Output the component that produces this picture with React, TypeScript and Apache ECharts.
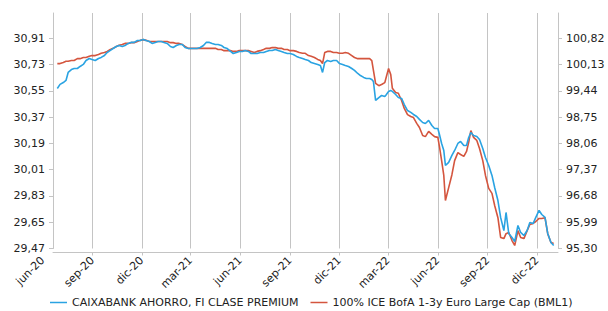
import React, { useEffect, useRef } from 'react';
import * as echarts from 'echarts';

const seriesNames = ['CAIXABANK AHORRO, FI CLASE PREMIUM', '100% ICE BofA 1-3y Euro Large Cap (BML1)'];

const dates = [
  '2020-06-28','2020-07-03','2020-07-09','2020-07-14','2020-07-18','2020-07-24','2020-07-29','2020-08-04','2020-08-09','2020-08-15',
  '2020-08-20','2020-08-26','2020-08-31','2020-09-06','2020-09-12','2020-09-17','2020-09-23','2020-09-28','2020-10-04','2020-10-09',
  '2020-10-15','2020-10-20','2020-10-26','2020-10-31','2020-11-06','2020-11-11','2020-11-17','2020-11-23','2020-11-28','2020-12-04',
  '2020-12-09','2020-12-15','2020-12-20','2020-12-26','2020-12-31','2021-01-06','2021-01-11','2021-01-17','2021-01-23','2021-01-28',
  '2021-02-03','2021-02-08','2021-02-14','2021-02-19','2021-02-25','2021-03-02','2021-03-08','2021-03-13','2021-03-19','2021-03-25',
  '2021-03-30','2021-04-05','2021-04-10','2021-04-16','2021-04-21','2021-04-27','2021-05-02','2021-05-08','2021-05-14','2021-05-19',
  '2021-05-25','2021-05-30','2021-06-05','2021-06-10','2021-06-16','2021-06-21','2021-06-27','2021-07-02','2021-07-08','2021-07-14',
  '2021-07-19','2021-07-25','2021-07-30','2021-08-05','2021-08-10','2021-08-16','2021-08-21','2021-08-27','2021-09-01','2021-09-07',
  '2021-09-13','2021-09-18','2021-09-24','2021-09-29','2021-10-05','2021-10-10','2021-10-16','2021-10-22','2021-10-27','2021-10-31',
  '2021-11-04','2021-11-09','2021-11-15','2021-11-20','2021-11-26','2021-12-01','2021-12-07','2021-12-12','2021-12-18','2021-12-24',
  '2021-12-29','2022-01-04','2022-01-09','2022-01-15','2022-01-20','2022-01-26','2022-01-30','2022-02-02','2022-02-06','2022-02-12',
  '2022-02-17','2022-02-23','2022-02-26','2022-03-02','2022-03-06','2022-03-09','2022-03-15','2022-03-20','2022-03-26','2022-03-31',
  '2022-04-06','2022-04-12','2022-04-17','2022-04-23','2022-04-28','2022-05-04','2022-05-09','2022-05-15','2022-05-21','2022-05-26',
  '2022-06-01','2022-06-04','2022-06-08','2022-06-12','2022-06-15','2022-06-21','2022-06-27','2022-07-02','2022-07-08','2022-07-13',
  '2022-07-19','2022-07-24','2022-07-28','2022-08-01','2022-08-06','2022-08-12','2022-08-17','2022-08-23','2022-08-28','2022-09-03',
  '2022-09-09','2022-09-14','2022-09-20','2022-09-25','2022-10-01','2022-10-05','2022-10-10','2022-10-16','2022-10-21','2022-10-27',
  '2022-11-01','2022-11-07','2022-11-13','2022-11-18','2022-11-24','2022-11-29','2022-12-05','2022-12-10','2022-12-16','2022-12-21',
  '2022-12-27','2023-01-01'
];

const fundValues = [
  30.567,30.595,30.608,30.622,30.677,30.697,30.704,30.704,30.718,30.732,
  30.759,30.773,30.766,30.759,30.773,30.780,30.793,30.814,30.828,30.841,
  30.855,30.862,30.855,30.862,30.876,30.883,30.883,30.896,30.896,30.903,
  30.896,30.889,30.876,30.883,30.889,30.889,30.883,30.876,30.855,30.848,
  30.862,30.869,30.869,30.848,30.841,30.841,30.841,30.841,30.848,30.862,
  30.883,30.883,30.876,30.869,30.869,30.862,30.848,30.841,30.821,30.807,
  30.814,30.821,30.821,30.828,30.821,30.807,30.807,30.807,30.814,30.814,
  30.821,30.828,30.828,30.835,30.828,30.821,30.814,30.807,30.807,30.800,
  30.787,30.780,30.773,30.766,30.759,30.745,30.739,30.732,30.725,30.677,
  30.745,30.759,30.752,30.759,30.759,30.739,30.732,30.725,30.718,30.704,
  30.691,30.670,30.656,30.643,30.636,30.636,30.629,30.615,30.485,30.505,
  30.519,30.512,30.526,30.547,30.553,30.547,30.526,30.505,30.499,30.457,
  30.416,30.403,30.389,30.375,30.355,30.334,30.327,30.348,30.313,30.293,
  30.293,30.252,30.190,30.142,30.039,30.060,30.108,30.142,30.190,30.204,
  30.176,30.176,30.231,30.265,30.245,30.238,30.217,30.156,30.094,30.039,
  29.971,29.888,29.799,29.683,29.593,29.717,29.573,29.545,29.518,29.628,
  29.580,29.559,29.593,29.648,29.641,29.683,29.731,29.703,29.683,29.573,
  29.511,29.491
];

const indexValues = [
  100.16,100.16,100.19,100.22,100.22,100.24,100.24,100.29,100.29,100.32,
  100.32,100.35,100.37,100.37,100.40,100.43,100.45,100.48,100.53,100.56,
  100.61,100.64,100.66,100.69,100.69,100.71,100.71,100.74,100.77,100.79,
  100.77,100.74,100.74,100.74,100.74,100.74,100.74,100.74,100.71,100.71,
  100.69,100.69,100.66,100.61,100.56,100.56,100.56,100.56,100.56,100.56,
  100.56,100.56,100.56,100.56,100.53,100.53,100.50,100.50,100.50,100.48,
  100.48,100.50,100.50,100.50,100.50,100.48,100.45,100.48,100.50,100.53,
  100.56,100.56,100.58,100.58,100.56,100.56,100.53,100.53,100.50,100.50,
  100.48,100.45,100.43,100.43,100.37,100.35,100.32,100.27,100.24,100.16,
  100.45,100.48,100.48,100.45,100.45,100.43,100.43,100.45,100.43,100.37,
  100.32,100.29,100.29,100.29,100.29,100.29,100.24,99.98,99.64,99.58,
  99.61,99.66,99.82,100.03,99.87,99.51,99.40,99.38,99.19,98.98,
  98.82,98.77,98.74,98.59,98.48,98.27,98.24,98.38,98.30,98.24,
  98.22,97.98,97.61,97.22,96.56,96.90,97.24,97.61,97.82,97.77,
  97.72,97.85,98.09,98.40,98.22,98.14,97.93,97.61,97.22,96.88,
  96.75,96.43,96.11,95.59,95.56,95.69,95.72,95.51,95.38,95.77,
  95.59,95.56,95.77,95.93,95.96,96.01,96.09,96.09,96.11,95.69,
  95.46,95.43
];

const leftTicks = [29.47, 29.65, 29.83, 30.01, 30.19, 30.37, 30.55, 30.73, 30.91];
const rightTicks = [95.30, 95.99, 96.68, 97.37, 98.06, 98.75, 99.44, 100.13, 100.82];

const xTickDates = ['2020-06-01','2020-09-01','2020-12-01','2021-03-01','2021-06-01','2021-09-01','2021-12-01','2022-03-01','2022-06-01','2022-09-01','2022-12-01'];
const xTickLabels = ['jun-20','sep-20','dic-20','mar-21','jun-21','sep-21','dic-21','mar-22','jun-22','sep-22','dic-22'];
const xStart = '2020-06-20';
const xEnd = '2023-01-09';

const BLUE = '#2aa3e2';
const RED = '#d4553e';
const GRID = '#c4c4c4';
const TEXT = '#222222';
const FONT = 'DejaVu Sans';

const toTs = (s: string) => {
  const [y, m, d] = s.split('-').map(Number);
  return Date.UTC(y, m - 1, d);
};

const fmt = (v: number) => v.toFixed(2).replace('.', ',');

export default function App() {
  const ref = useRef<HTMLDivElement>(null);
  useEffect(() => {
    if (!ref.current) return;
    const chart = echarts.init(ref.current, undefined, { renderer: 'svg' });

    const W = 608;
    const plotLeft = 53;
    const plotRight = 50;
    const plotTop = 13;
    const plotBottom = 62.5;
    const spanUnits = 8.97;

    const leftStep = leftTicks[1] - leftTicks[0];
    const rightStep = rightTicks[1] - rightTicks[0];

    const t0 = toTs(xStart);
    const t1 = toTs(xEnd);
    const tFirst = toTs(xTickDates[0]);
    const plotW = W - plotLeft - plotRight;
    const labelGridLeft = plotLeft - ((t0 - tFirst) / (t1 - t0)) * plotW;
    const xTickTs = xTickDates.map(toTs);
    const inner = xTickTs.filter((t) => t >= t0 && t <= t1);

    const option: any = {
      animation: false,
      backgroundColor: '#ffffff',
      grid: [
        { left: plotLeft, right: plotRight, top: plotTop, bottom: plotBottom },
        { left: labelGridLeft, right: plotRight, top: plotTop, bottom: plotBottom },
      ],
      legend: {
        left: 50,
        top: 296,
        padding: 0,
        icon: 'rect',
        itemWidth: 17,
        itemHeight: 1.5,
        itemGap: 12,
        data: [seriesNames[0], seriesNames[1]],
        textStyle: { fontSize: 11, lineHeight: 13, color: TEXT, fontFamily: FONT },
      },
      xAxis: [
        {
          type: 'value',
          gridIndex: 0,
          min: t0,
          max: t1,
          offset: 4,
          axisLine: { show: true, lineStyle: { color: GRID, width: 1 } },
          axisTick: { show: true, length: 3, customValues: inner, lineStyle: { color: GRID } },
          axisLabel: { show: false },
          splitLine: { show: true, lineStyle: { color: GRID, width: 1 } },
        },
        {
          type: 'value',
          gridIndex: 1,
          min: tFirst,
          max: t1,
          offset: 4,
          axisLine: { show: false },
          axisTick: { show: false },
          splitLine: { show: false },
          axisLabel: {
            show: true,
            customValues: xTickTs,
            rotate: 45,
            margin: 6,
            fontSize: 11,
            color: TEXT,
            fontFamily: FONT,
            formatter: (v: number) => {
              const i = xTickTs.findIndex((t) => Math.abs(t - v) < 43200000);
              return i >= 0 ? xTickLabels[i] : '';
            },
          },
        },
      ],
      yAxis: [
        {
          type: 'value',
          gridIndex: 0,
          position: 'left',
          min: leftTicks[0],
          max: leftTicks[0] + leftStep * spanUnits,
          axisLine: { show: true, lineStyle: { color: GRID } },
          axisTick: { show: true, length: 4, customValues: leftTicks, lineStyle: { color: GRID } },
          axisLabel: { show: true, customValues: leftTicks, margin: 8, fontSize: 11, color: TEXT, fontFamily: FONT, formatter: fmt },
          splitLine: { show: false },
        },
        {
          type: 'value',
          gridIndex: 0,
          position: 'right',
          min: rightTicks[0],
          max: rightTicks[0] + rightStep * spanUnits,
          axisLine: { show: true, lineStyle: { color: GRID } },
          axisTick: { show: true, length: 4, customValues: rightTicks, lineStyle: { color: GRID } },
          axisLabel: { show: true, customValues: rightTicks, margin: 8, fontSize: 11, color: TEXT, fontFamily: FONT, formatter: fmt },
          splitLine: { show: false },
        },
        {
          type: 'value',
          gridIndex: 1,
          show: false,
        },
      ],
      series: [
        {
          name: seriesNames[1],
          type: 'line',
          xAxisIndex: 0,
          yAxisIndex: 1,
          symbol: 'none',
          clip: false,
          lineStyle: { color: RED, width: 1.6 },
          itemStyle: { color: RED },
          data: dates.map((d, i) => [toTs(d), indexValues[i]]),
        },
        {
          name: seriesNames[0],
          type: 'line',
          xAxisIndex: 0,
          yAxisIndex: 0,
          symbol: 'none',
          clip: false,
          lineStyle: { color: BLUE, width: 1.6 },
          itemStyle: { color: BLUE },
          data: dates.map((d, i) => [toTs(d), fundValues[i]]),
        },
      ],
    };
    chart.setOption(option);
    return () => chart.dispose();
  }, []);

  return (
    <div
      ref={ref}
      style={{ position: 'fixed', left: 0, top: 0, width: 608, height: 311, background: '#fff' }}
    />
  );
}
